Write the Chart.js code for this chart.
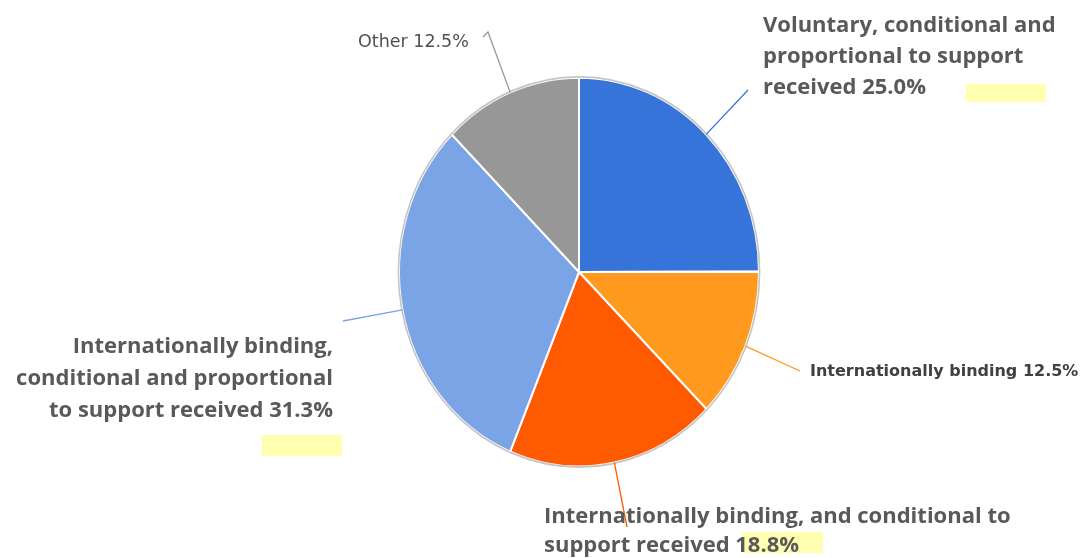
<!DOCTYPE html>
<html><head><meta charset="utf-8">
<script src="https://cdn.jsdelivr.net/npm/chart.js@4.4.0/dist/chart.umd.min.js"></script>
<style>html,body{margin:0;padding:0;background:#fff;}#wrap{width:1090px;height:558px;}</style>
</head><body><div id="wrap"><canvas id="c" width="1090" height="558"></canvas></div>
<script>
const categories = [
  "Voluntary, conditional and proportional to support received",
  "Internationally binding",
  "Internationally binding, and conditional to support received",
  "Internationally binding, conditional and proportional to support received",
  "Other"
];
const values = [25.0, 12.5, 18.8, 31.3, 12.5];
const colors = ["#3674d9", "#ff9a1f", "#ff5a00", "#7ba4e6", "#979797"];
const labelLines = [
  ["Voluntary, conditional and", "proportional to support", "received 25.0%"],
  ["Internationally binding 12.5%"],
  ["Internationally binding, and conditional to", "support received 18.8%"],
  ["Internationally binding,", "conditional and proportional", "to support received 31.3%"],
  ["Other 12.5%"]
];
// label layout (positions/styles only)
const labelStyle = [
  {x:763, y:32, align:"left", font:"bold 22px 'Open Sans'", lh:31, color:"#595959", end:[748,90], hl:[966,84,80,18]},
  {x:810, y:376, align:"left", font:"bold 16px 'DejaVu Sans'", lh:0, color:"#404040", end:[800,371]},
  {x:544, y:523, align:"left", font:"bold 22px 'Open Sans'", lh:29, color:"#595959", end:[627,527], hl:[742,532,81,21]},
  {x:333, y:353, align:"right", font:"bold 22px 'Open Sans'", lh:32, color:"#595959", end:[343,321], hl:[262,435,80,21]},
  {x:358, y:47, align:"left", font:"17.5px 'DejaVu Sans'", lh:0, color:"#505050", end:[488,32], hook:[483,37]}
];
const SY = 195.5/181;

const ellipsePlugin = {
  id:'ellipse',
  beforeDatasetsDraw(chart){
    const m = chart.getDatasetMeta(0).data[0];
    const ctx = chart.ctx;
    ctx.save();
    ctx.translate(m.x, m.y); ctx.scale(1, SY); ctx.translate(-m.x, -m.y);
  },
  afterDatasetsDraw(chart){
    const m = chart.getDatasetMeta(0).data[0];
    const ctx = chart.ctx;
    ctx.beginPath();
    ctx.arc(m.x, m.y, m.outerRadius+0.6, 0, Math.PI*2);
    ctx.strokeStyle = "rgba(150,150,150,0.55)";
    ctx.lineWidth = 1.6;
    ctx.stroke();
    ctx.restore();
  },
  afterDraw(chart){
    const ctx = chart.ctx;
    const meta = chart.getDatasetMeta(0);
    meta.data.forEach((arc, i) => {
      const st = labelStyle[i];
      const mid = (arc.startAngle + arc.endAngle)/2;
      const sx = arc.x + Math.cos(mid)*arc.outerRadius;
      const sy = arc.y + Math.sin(mid)*arc.outerRadius*SY;
      ctx.save();
      if (st.hl){
        ctx.fillStyle = "rgba(255,255,110,0.55)";
        ctx.fillRect(st.hl[0], st.hl[1], st.hl[2], st.hl[3]);
      }
      ctx.strokeStyle = colors[i];
      ctx.lineWidth = 1.3;
      ctx.beginPath();
      ctx.moveTo(sx, sy);
      ctx.lineTo(st.end[0], st.end[1]);
      if (st.hook) ctx.lineTo(st.hook[0], st.hook[1]);
      ctx.stroke();
      ctx.font = st.font;
      ctx.fillStyle = st.color;
      ctx.textAlign = st.align;
      ctx.textBaseline = "alphabetic";
      labelLines[i].forEach((ln, k) => ctx.fillText(ln, st.x, st.y + k*st.lh));
      ctx.restore();
    });
  }
};

new Chart(document.getElementById('c'), {
  type:'pie',
  data:{labels:categories, datasets:[{data:values, backgroundColor:colors, borderColor:"#ffffff", borderWidth:2}]},
  options:{
    responsive:false, animation:false,
    layout:{padding:{left:398, right:330, top:91, bottom:105}},
    plugins:{legend:{display:false}, tooltip:{enabled:false}}
  },
  plugins:[ellipsePlugin]
});
</script></body></html>
